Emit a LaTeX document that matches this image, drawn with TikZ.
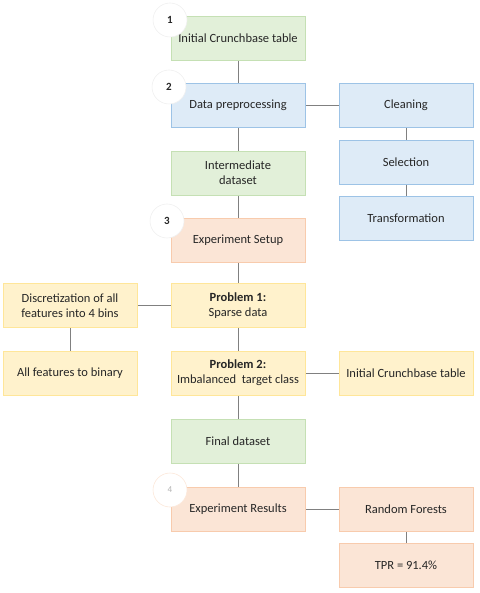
\documentclass[tikz,border=0pt]{standalone}
\usepackage{fontspec}
\setmainfont{Carlito}
\usetikzlibrary{backgrounds}
\definecolor{gfill}{HTML}{E2F0D9}\definecolor{gdraw}{HTML}{C5E0B4}
\definecolor{bfill}{HTML}{DEEBF7}\definecolor{bdraw}{HTML}{9DC3E6}
\definecolor{ofill}{HTML}{FBE5D6}\definecolor{odraw}{HTML}{F8CBAD}
\definecolor{yfill}{HTML}{FFF2CC}\definecolor{ydraw}{HTML}{FFE699}
\definecolor{txt}{HTML}{262626}
\definecolor{lin}{HTML}{808080}
\tikzset{
  box/.style={rectangle, minimum width=134pt, minimum height=44pt, inner sep=2pt, align=center, font=\fontsize{12.5}{15}\selectfont, text=txt, line width=0.8pt},
  gbox/.style={box, fill=gfill, draw=gdraw},
  bbox/.style={box, fill=bfill, draw=bdraw},
  obox/.style={box, fill=ofill, draw=odraw},
  ybox/.style={box, fill=yfill, draw=ydraw},
  num/.style={circle, minimum size=34pt, inner sep=0pt, fill=white, draw=gray!12, line width=0.6pt, font=\fontsize{11}{12}\selectfont\bfseries, text=txt},
  con/.style={draw=lin, line width=0.8pt}
}
\begin{document}
\begin{tikzpicture}[x=1pt,y=-1pt]
\useasboundingbox (0,0) rectangle (479,593);
\node[gbox] (b1) at (238,38) {Initial Crunchbase table};
\node[bbox] (b2) at (238,105.5) {Data preprocessing};
\node[gbox] (b3) at (238,173) {Intermediate\\dataset};
\node[obox] (b4) at (238,240.5) {Experiment Setup};
\node[ybox] (b5) at (238,305.5) {\textbf{Problem 1:}\\Sparse data};
\node[ybox] (b6) at (238,373) {\textbf{Problem 2:}\\Imbalanced\ \ target class};
\node[gbox] (b7) at (238,441) {Final dataset};
\node[obox] (b8) at (238,509) {Experiment Results};
\node[bbox] (c1) at (406,105.5) {Cleaning};
\node[bbox] (c2) at (406,162) {Selection};
\node[bbox] (c3) at (406,218) {Transformation};
\node[ybox] (d1) at (70,305.5) {Discretization of all\\features into 4 bins};
\node[ybox] (d2) at (70,373) {All features to binary};
\node[ybox] (e1) at (406,373) {Initial Crunchbase table};
\node[obox] (f1) at (406,509) {Random Forests};
\node[obox] (f2) at (406,565.5) {TPR = 91.4\%};
\node[num] (n1) at (170,20) {1};
\node[num] (n2) at (169,87) {2};
\node[num] (n3) at (167,221) {3};
\node[num, draw=odraw!45, text=gray!60, font=\fontsize{9}{10}\selectfont] (n4) at (170,490) {4};
\begin{scope}[on background layer]
\draw[con] (b1) -- (b2);
\draw[con] (b2) -- (b3);
\draw[con] (b3) -- (b4);
\draw[con] (b4) -- (b5);
\draw[con] (b5) -- (b6);
\draw[con] (b6) -- (b7);
\draw[con] (b7) -- (b8);
\draw[con] (b2) -- (c1);
\draw[con] (c1) -- (c2);
\draw[con] (c2) -- (c3);
\draw[con] (b5) -- (d1);
\draw[con] (d1) -- (d2);
\draw[con] (b6) -- (e1);
\draw[con] (b8) -- (f1);
\draw[con] (f1) -- (f2);
\end{scope}
\end{tikzpicture}
\end{document}
